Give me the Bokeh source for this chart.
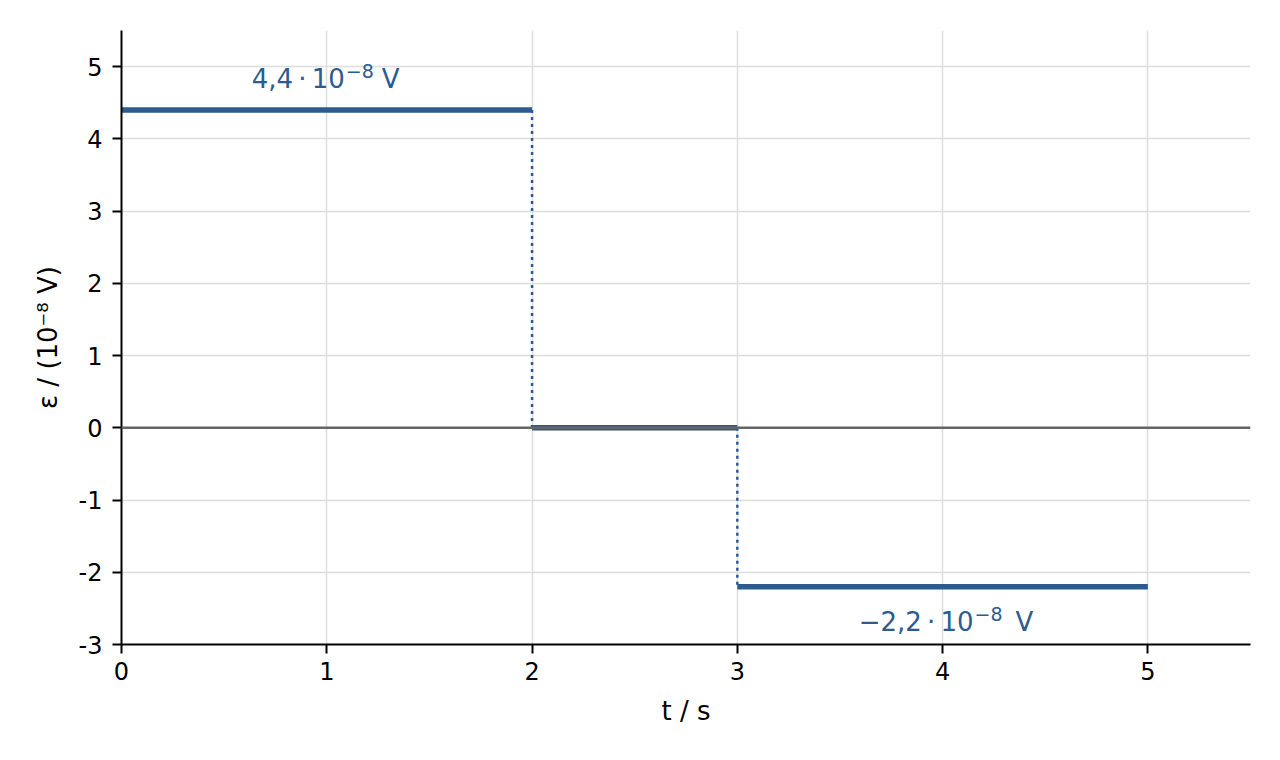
from bokeh.plotting import figure
from bokeh.models import FixedTicker, Range1d, Span, ColumnDataSource
from bokeh.embed import file_html
from bokeh.resources import INLINE
from bokeh.core.properties import value

# --- data ---
seg_x0 = [0.0, 2.0, 3.0]
seg_x1 = [2.0, 3.0, 5.0]
seg_y = [4.4, 0.0, -2.2]
jump_x = [2.0, 3.0]
jump_y0 = [4.4, 0.0]
jump_y1 = [0.0, -2.2]
label_x = [1.0, 4.0]
label_y = [4.71, -2.82]
label_mantissa = ["4,4", "−2,2"]
label_exponent = ["−8", "−8"]
label_unit = ["V", "V"]
x_ticks = [0, 1, 2, 3, 4, 5]
x_tick_labels = ["0", "1", "2", "3", "4", "5"]
y_ticks = [-3, -2, -1, 0, 1, 2, 3, 4, 5]
y_tick_labels = ["-3", "-2", "-1", "0", "1", "2", "3", "4", "5"]
x_title = "t / s"
y_title = "ε / (10⁻⁸ V)"
x_min, x_max = 0, 5.5
y_min, y_max = -3, 5.5

BLUE = "#2d5b8f"
FONT = "DejaVu Sans"
TICK_FS = "24px"
LABEL_FS = "26px"
SUP_FS = "19px"

p = figure(width=1264, height=744, output_backend="svg", toolbar_location=None,
           x_range=Range1d(x_min, x_max), y_range=Range1d(y_min, y_max),
           min_border_left=121, min_border_right=14, min_border_top=30,
           min_border_bottom=100)
p.outline_line_color = None
p.background_fill_color = "#ffffff"
p.border_fill_color = "#ffffff"

for ax, ticks, labels in ((p.xaxis[0], x_ticks, x_tick_labels), (p.yaxis[0], y_ticks, y_tick_labels)):
    ax.ticker = FixedTicker(ticks=ticks)
    ax.major_label_overrides = {t: l for t, l in zip(ticks, labels)}
    ax.minor_tick_line_color = None
    ax.major_tick_in = 0
    ax.major_tick_out = 9
    ax.major_tick_line_width = 2
    ax.axis_line_width = 2
    ax.axis_line_color = "black"
    ax.major_tick_line_color = "black"
    ax.major_label_text_font = FONT
    ax.major_label_text_font_size = TICK_FS
    ax.major_label_text_color = "black"
    ax.axis_label_text_font = FONT
    ax.axis_label_text_font_size = LABEL_FS
    ax.axis_label_text_font_style = "normal"
    ax.axis_label_text_color = "black"
p.xaxis.axis_label = x_title
p.yaxis.axis_label = y_title
p.xaxis.major_label_standoff = 8
p.yaxis.major_label_standoff = 10
p.xaxis.axis_label_standoff = 13
p.yaxis.axis_label_standoff = 13

p.xgrid.ticker = FixedTicker(ticks=x_ticks)
p.ygrid.ticker = FixedTicker(ticks=y_ticks)
p.grid.grid_line_color = "#dddddd"
p.grid.grid_line_width = 1.5

# dotted jumps
p.segment(x0=jump_x, y0=jump_y0, x1=jump_x, y1=jump_y1,
          line_color=BLUE, line_width=2.5, line_dash="3 4")
# constant segments
p.segment(x0=seg_x0, y0=seg_y, x1=seg_x1, y1=seg_y,
          line_color=BLUE, line_width=5.5)

# zero line
p.add_layout(Span(location=0, dimension="width", line_color="#666666", line_width=2.5))

# value annotations: mantissa · 10^exp unit
src = ColumnDataSource(dict(
    x=label_x, y=label_y,
    main=[m + "\u2009·\u200910" for m in label_mantissa],
    sup=label_exponent, unit=label_unit,
    off_main=[18, 31], off_sup=[19, 32], off_unit=[55, 73],
))
common = dict(source=src, text_color=BLUE, text_font=value(FONT), text_baseline="alphabetic")
p.text(x="x", y="y", text="main", x_offset="off_main", y_offset=-9, text_align="right",
       text_font_size=LABEL_FS, **common)
p.text(x="x", y="y", text="sup", x_offset="off_sup", y_offset=-17, text_align="left",
       text_font_size=SUP_FS, **common)
p.text(x="x", y="y", text="unit", x_offset="off_unit", y_offset=-9, text_align="left",
       text_font_size=LABEL_FS, **common)

open("out.html", "w").write(file_html(p, INLINE))
